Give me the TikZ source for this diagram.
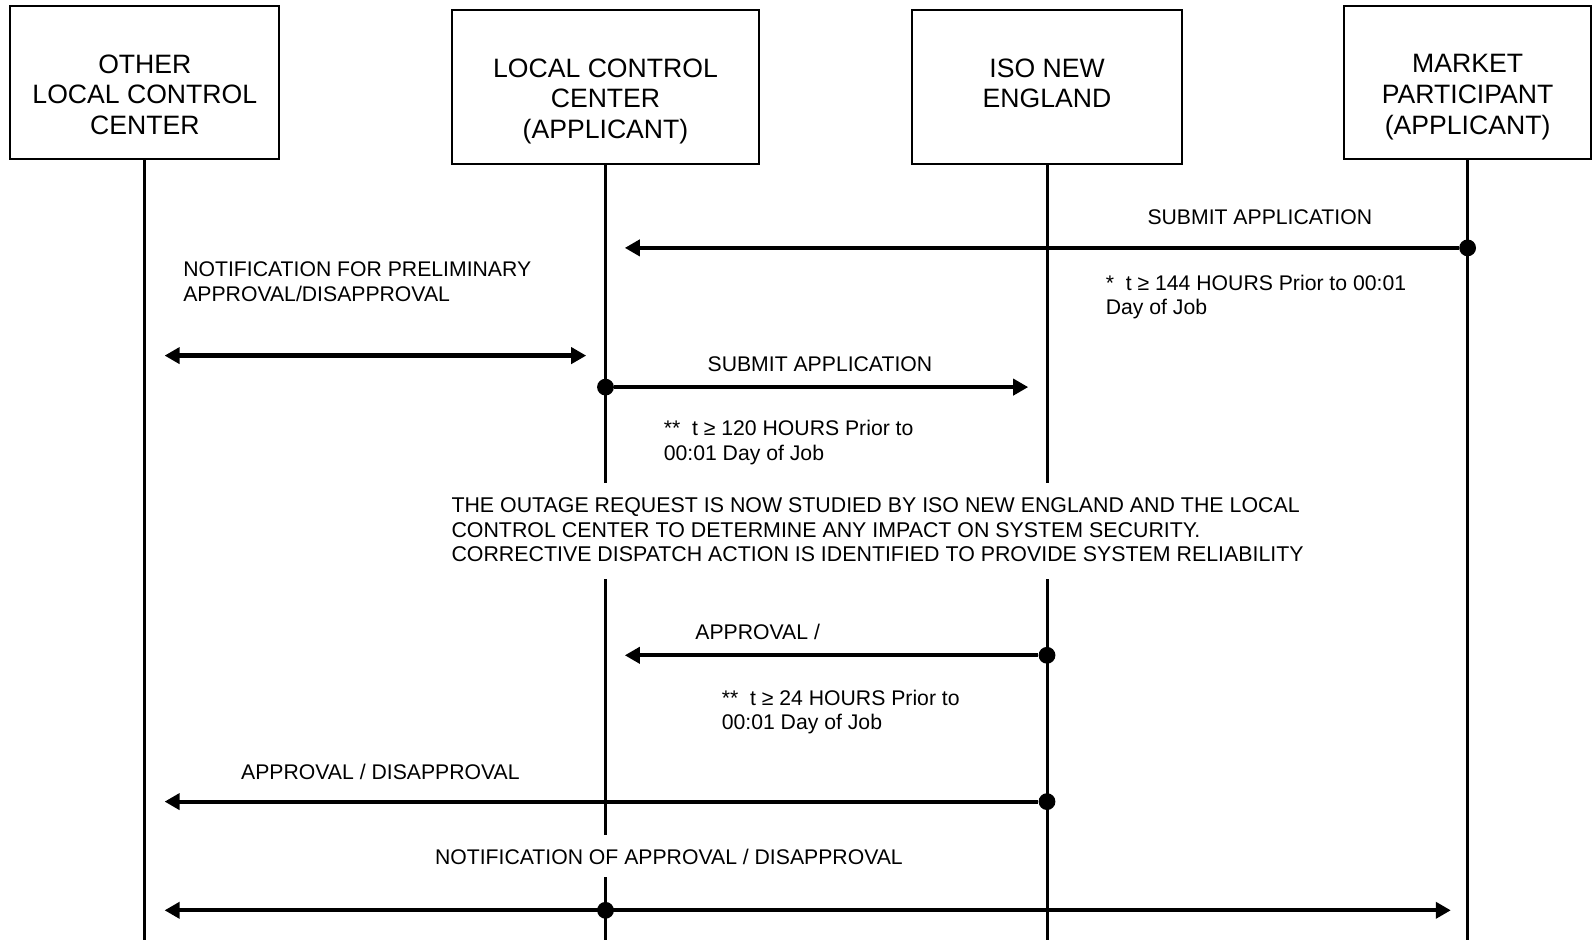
\documentclass[tikz,border=0pt]{standalone}
\usepackage{fontspec}
\setmainfont{Liberation Sans}
\usetikzlibrary{arrows.meta}

\tikzset{
  actor/.style={draw, line width=1pt, rectangle, inner sep=0pt, minimum height=76.7pt},
  boxlbl/.style={anchor=north, inner sep=0pt, align=center, yshift=-24.6pt,
    font=\fontsize{13.3pt}{15.3pt}\selectfont},
  lifeline/.style={line width=1.5pt},
  msg/.style={line width=2.1pt, -{Triangle[length=7.5pt,width=8pt]}},
  dmsg/.style={line width=2.1pt, {Triangle[length=7.5pt,width=8pt]}-{Triangle[length=7.5pt,width=8pt]}},
  dot/.style={circle, fill=black, inner sep=0pt, minimum size=8.4pt},
  txt/.style={inner sep=0pt, font=\fontsize{10.6pt}{12.2pt}\selectfont},
}

\begin{document}
\begin{tikzpicture}[x=0.5pt,y=0.5pt,yscale=-1,xscale=1]
\useasboundingbox (0,0) rectangle (1593,940);

%Shape: Rectangle [other]
\node[actor, minimum width=134.6pt, label={[boxlbl,name=otherlbl]90:{OTHER\\LOCAL CONTROL\\CENTER}}] (other) at (144.8,82.8) {};
%Shape: Rectangle [lcc]
\node[actor, minimum width=153.5pt, label={[boxlbl,name=lcclbl]90:{LOCAL CONTROL\\CENTER\\(APPLICANT)}}] (lcc) at (605.5,86.9) {};
%Shape: Rectangle [iso]
\node[actor, minimum width=134.6pt, label={[boxlbl,name=isolbl]90:{ISO NEW\\ENGLAND}}] (iso) at (1047,86.9) {};
%Shape: Rectangle [mp]
\node[actor, minimum width=123.4pt, label={[boxlbl,name=mplbl]90:{MARKET\\PARTICIPANT\\(APPLICANT)}}] (mp) at (1467.6,82.8) {};

%Lifelines
\draw[lifeline] (other.south) -- (other.south |- 0,940);
\draw[lifeline] (lcc.south) -- (605.5,482.6);
\draw[lifeline] (605.5,579) -- (605.5,835);
\draw[lifeline] (605.5,877) -- (605.5,940);
\draw[lifeline] (iso.south) -- (1047,482.6);
\draw[lifeline] (1047,579) -- (1047,940);
\draw[lifeline] (mp.south) -- (mp.south |- 0,940);

%Message: submit application (market participant)
\node[dot] (sub1) at (1467.6,247.9) {};
\coordinate (sub1end) at (624.8,247.9);
\draw[msg] (sub1) -- (sub1end);
% Text Node
\node[txt, anchor=base] (sub1lbl) at (1259.8,225) {SUBMIT APPLICATION};
% Text Node
\node[txt, anchor=north west, align=left] (note144) at (1105.4,274.8) {*\ \ t ≥ 144 HOURS Prior to 00:01\\Day of Job};

%Message: preliminary notification
% Text Node
\node[txt, anchor=north west, align=left] (prelimlbl) at (182.9,261.6) {NOTIFICATION FOR PRELIMINARY\\APPROVAL/DISAPPROVAL};
\coordinate (prelimL) at (164.6,355.6);
\coordinate (prelimR) at (586.2,355.6);
\draw[dmsg] (prelimL) -- (prelimR);

%Message: submit application (local control center)
\node[dot] (sub2) at (605.5,387.1) {};
\coordinate (sub2end) at (1028.2,387.1);
\draw[msg] (sub2) -- (sub2end);
% Text Node
\node[txt, anchor=base] (sub2lbl) at (819.9,371.3) {SUBMIT APPLICATION};
% Text Node
\node[txt, anchor=north west, align=left] (note120) at (663.4,420.1) {**\ \ t ≥ 120 HOURS Prior to\\00:01 Day of Job};

% Text Node
\node[txt, anchor=north west, align=left, font=\fontsize{10.68pt}{12.2pt}\selectfont] (study) at (451.1,497.4) {THE OUTAGE REQUEST IS NOW STUDIED BY ISO NEW ENGLAND AND THE LOCAL\\CONTROL CENTER TO DETERMINE ANY IMPACT ON SYSTEM SECURITY.\\CORRECTIVE DISPATCH ACTION IS IDENTIFIED TO PROVIDE SYSTEM RELIABILITY};

%Message: approval to local control center
\node[dot] (appr1) at (1047,655.3) {};
\coordinate (appr1end) at (624.8,655.3);
\draw[msg] (appr1) -- (appr1end);
% Text Node
\node[txt, anchor=base west] (appr1lbl) at (695,639.6) {APPROVAL /};
% Text Node
\node[txt, anchor=north west, align=left] (note24) at (721.4,689.4) {**\ \ t ≥ 24 HOURS Prior to\\00:01 Day of Job};

%Message: approval to other local control center
\node[dot] (appr2) at (1047,801.6) {};
\coordinate (appr2end) at (164.6,801.6);
\draw[msg] (appr2) -- (appr2end);
% Text Node
\node[txt, anchor=base west] (appr2lbl) at (240.8,779.8) {APPROVAL / DISAPPROVAL};

%Message: notification of approval
% Text Node
\node[txt, anchor=base] (notiflbl) at (668.9,864.1) {NOTIFICATION OF APPROVAL / DISAPPROVAL};
\node[dot] (notif) at (605.5,910.3) {};
\coordinate (notifL) at (164.6,910.3);
\coordinate (notifR) at (1450.8,910.3);
\draw[dmsg] (notifL) -- (notifR);

\end{tikzpicture}
\end{document}
